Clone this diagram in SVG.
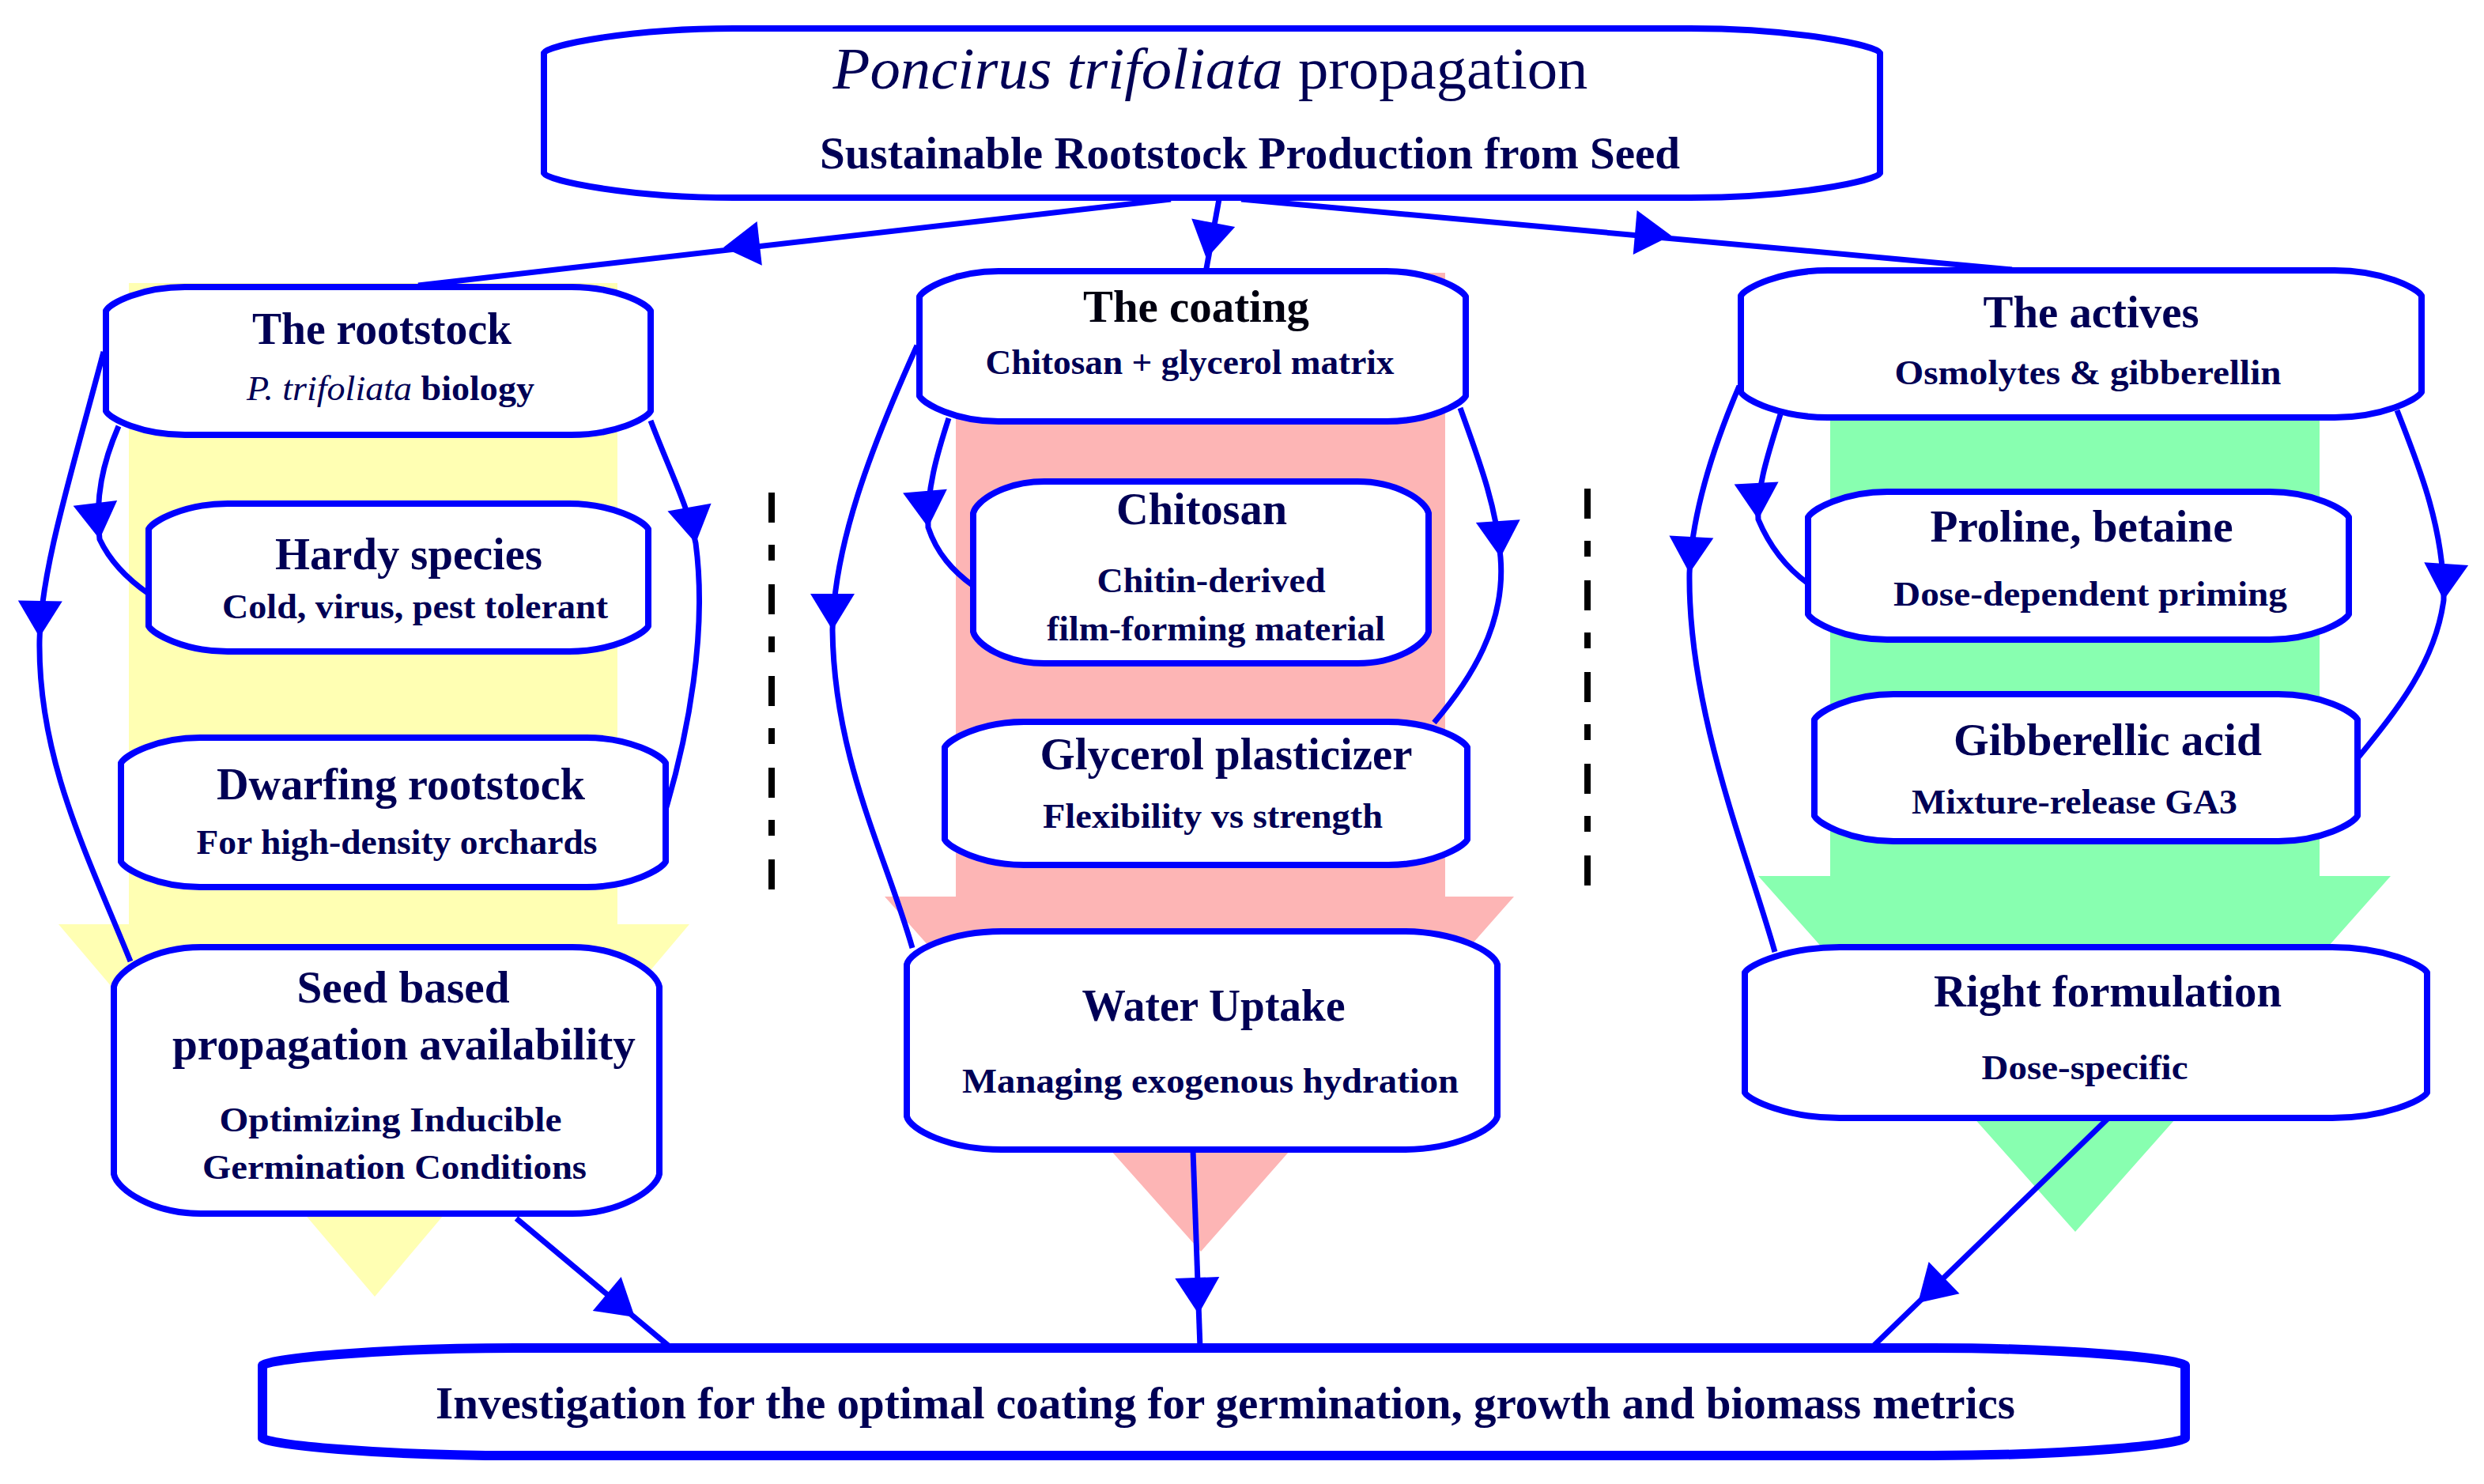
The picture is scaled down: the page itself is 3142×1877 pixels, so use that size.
<svg xmlns="http://www.w3.org/2000/svg" xmlns:xlink="http://www.w3.org/1999/xlink" width="3142" height="1877" viewBox="0 0 3142 1877">
<defs>
<style>
.box{fill:#fff;stroke:#0000ff;stroke-width:8;stroke-linejoin:round}
.t{font-family:"Liberation Serif","DejaVu Serif",serif;font-weight:bold;font-size:56px;fill:#000055;text-anchor:middle}
.s{font-family:"Liberation Serif","DejaVu Serif",serif;font-weight:bold;font-size:45px;fill:#000055;text-anchor:middle}
.it{font-style:italic;font-weight:normal}
.con{fill:none;stroke:#0000ff;stroke-width:7}
.dash{fill:none;stroke:#000;stroke-width:8;stroke-dasharray:38 28 20 30}
</style>
<path id="ah" d="M0,0 L-46,-28 L-46,28 Z" fill="#0000ff"/>
</defs>
<rect width="3142" height="1877" fill="#fff"/>
<g id="bands">
<polygon fill="#ffffb3" points="163,358 781,358 781,1169 872,1169 474,1640 74,1169 163,1169"/>
<polygon fill="#fdb5b5" points="1209,345 1828,345 1828,1134 1915,1134 1519,1583 1119,1134 1209,1134"/>
<polygon fill="#88ffb0" points="2315,341 2934,341 2934,1108 3024,1108 2625,1558 2224,1108 2315,1108"/>
</g>
<g id="separators">
<line class="dash" x1="976" y1="623" x2="976" y2="1127"/>
<line class="dash" x1="2008" y1="618" x2="2008" y2="1122"/>
</g>
<g id="connectors">
<path class="con" d="M1481,252 L529,361"/>
<use xlink:href="#ah" transform="translate(915,313) rotate(173.6)"/>
<path class="con" d="M1542,252 L1525,345"/>
<use xlink:href="#ah" transform="translate(1526,327) rotate(100.9)"/>
<path class="con" d="M1570,252 L2545,341"/>
<use xlink:href="#ah" transform="translate(2114,298) rotate(5)"/>
<path class="con" d="M131,445 C90,600 52,720 50,810 C48,960 110,1080 165,1216"/>
<use xlink:href="#ah" transform="translate(50,806) rotate(91)"/>
<path class="con" d="M150,539 C130,585 120,630 126,682 C140,712 165,735 188,751"/>
<use xlink:href="#ah" transform="translate(126,682) rotate(83)"/>
<path class="con" d="M823,532 C845,590 870,640 880,687 C895,800 870,930 842,1024"/>
<use xlink:href="#ah" transform="translate(880,687) rotate(80)"/>
<path class="con" d="M1160,437 C1100,570 1055,690 1053,797 C1055,960 1120,1080 1154,1199"/>
<use xlink:href="#ah" transform="translate(1053,797) rotate(90)"/>
<path class="con" d="M1200,529 C1185,575 1172,620 1174,667 C1185,700 1205,722 1231,741"/>
<use xlink:href="#ah" transform="translate(1174,667) rotate(85)"/>
<path class="con" d="M1847,516 C1870,580 1893,640 1898,705 C1905,790 1860,860 1814,914"/>
<use xlink:href="#ah" transform="translate(1898,705) rotate(86)"/>
<path class="con" d="M2200,488 C2165,570 2140,650 2137,725 C2135,900 2210,1080 2245,1204"/>
<use xlink:href="#ah" transform="translate(2137,725) rotate(93)"/>
<path class="con" d="M2252,524 C2238,570 2222,615 2224,657 C2240,695 2262,720 2287,738"/>
<use xlink:href="#ah" transform="translate(2224,657) rotate(87)"/>
<path class="con" d="M3032,519 C3060,590 3092,670 3091,759 C3080,840 3030,900 2983,958"/>
<use xlink:href="#ah" transform="translate(3091,759) rotate(94)"/>
<path class="con" d="M653,1541 L849,1705"/>
<use xlink:href="#ah" transform="translate(803,1666) rotate(39.9)"/>
<path class="con" d="M1509,1455 L1518,1705"/>
<use xlink:href="#ah" transform="translate(1516,1662) rotate(87.9)"/>
<path class="con" d="M2666,1415 L2367,1705"/>
<use xlink:href="#ah" transform="translate(2426,1648) rotate(136)"/>
</g>
<g id="node-top">
<path class="box" d="M928,36 H2138 C2270,36 2372,57 2378,67 V219 C2372,229 2270,250 2138,250 H928 C796,250 694,229 688,219 V67 C694,57 796,36 928,36 Z"/>
<text x="1531" y="112" style="font-family:'Liberation Serif','DejaVu Serif',serif;font-size:74px;fill:#000055;text-anchor:middle" textLength="955" lengthAdjust="spacingAndGlyphs"><tspan font-style="italic">Poncirus trifoliata</tspan> propagation</text>
<text class="t" x="1581" y="213" textLength="1088" lengthAdjust="spacingAndGlyphs">Sustainable Rootstock Production from Seed</text>
</g>
<g id="node-rootstock">
<path class="box" d="M234,363 H723 C778,363 817,383 823,393 V520 C817,530 778,550 723,550 H234 C179,550 140,530 134,520 V393 C140,383 179,363 234,363 Z"/>
<text class="t" x="483" y="435" textLength="328" lengthAdjust="spacingAndGlyphs">The rootstock</text>
<text class="s" x="494" y="506" textLength="364" lengthAdjust="spacingAndGlyphs"><tspan class="it">P. trifoliata</tspan> biology</text>
</g>
<g id="node-hardy">
<path class="box" d="M288,637 H720 C775,637 814,659 820,669 V792 C814,802 775,824 720,824 H288 C233,824 194,802 188,792 V669 C194,659 233,637 288,637 Z"/>
<text class="t" x="517" y="720" textLength="338" lengthAdjust="spacingAndGlyphs">Hardy species</text>
<text class="s" x="525" y="782" textLength="488" lengthAdjust="spacingAndGlyphs">Cold, virus, pest tolerant</text>
</g>
<g id="node-dwarfing">
<path class="box" d="M253,933 H742 C797,933 836,955 842,965 V1090 C836,1100 797,1122 742,1122 H253 C198,1122 159,1100 153,1090 V965 C159,955 198,933 253,933 Z"/>
<text class="t" x="507" y="1011" textLength="466" lengthAdjust="spacingAndGlyphs">Dwarfing rootstock</text>
<text class="s" x="502" y="1080" textLength="507" lengthAdjust="spacingAndGlyphs">For high-density orchards</text>
</g>
<g id="node-seed">
<path class="box" d="M254,1198 H724 C784,1198 830,1228 834,1248 V1485 C830,1505 784,1535 724,1535 H254 C194,1535 148,1505 144,1485 V1248 C148,1228 194,1198 254,1198 Z"/>
<text class="t" x="510" y="1268" textLength="269" lengthAdjust="spacingAndGlyphs">Seed based</text>
<text class="t" x="511" y="1340" textLength="586" lengthAdjust="spacingAndGlyphs">propagation availability</text>
<text class="s" x="494" y="1431" textLength="433" lengthAdjust="spacingAndGlyphs">Optimizing Inducible</text>
<text class="s" x="499" y="1491" textLength="486" lengthAdjust="spacingAndGlyphs">Germination Conditions</text>
</g>
<g id="node-coating">
<path class="box" d="M1263,343 H1754 C1809,343 1848,365 1854,375 V501 C1848,511 1809,533 1754,533 H1263 C1208,533 1169,511 1163,501 V375 C1169,365 1208,343 1263,343 Z"/>
<text class="t" x="1513" y="407" style="fill:#000010" textLength="286" lengthAdjust="spacingAndGlyphs">The coating</text>
<text class="s" x="1505" y="473" textLength="517" lengthAdjust="spacingAndGlyphs">Chitosan + glycerol matrix</text>
</g>
<g id="node-chitosan">
<path class="box" d="M1321,609 H1717 C1767,609 1803,633 1807,649 V799 C1803,815 1767,839 1717,839 H1321 C1271,839 1235,815 1231,799 V649 C1235,633 1271,609 1321,609 Z"/>
<text class="t" x="1520" y="663" textLength="216" lengthAdjust="spacingAndGlyphs">Chitosan</text>
<text class="s" x="1532" y="749" textLength="289" lengthAdjust="spacingAndGlyphs">Chitin-derived</text>
<text class="s" x="1538" y="810" textLength="428" lengthAdjust="spacingAndGlyphs">film-forming material</text>
</g>
<g id="node-glycerol">
<path class="box" d="M1295,913 H1756 C1811,913 1850,935 1856,945 V1062 C1850,1072 1811,1094 1756,1094 H1295 C1240,1094 1201,1072 1195,1062 V945 C1201,935 1240,913 1295,913 Z"/>
<text class="t" x="1551" y="973" textLength="471" lengthAdjust="spacingAndGlyphs">Glycerol plasticizer</text>
<text class="s" x="1534" y="1047" textLength="430" lengthAdjust="spacingAndGlyphs">Flexibility vs strength</text>
</g>
<g id="node-water">
<path class="box" d="M1267,1178 H1774 C1840,1178 1890,1203 1894,1220 V1412 C1890,1429 1840,1454 1774,1454 H1267 C1201,1454 1151,1429 1147,1412 V1220 C1151,1203 1201,1178 1267,1178 Z"/>
<text class="t" x="1535" y="1291" textLength="333" lengthAdjust="spacingAndGlyphs">Water Uptake</text>
<text class="s" x="1531" y="1382" textLength="628" lengthAdjust="spacingAndGlyphs">Managing exogenous hydration</text>
</g>
<g id="node-actives">
<path class="box" d="M2312,342 H2953 C3013,342 3057,364 3063,374 V496 C3057,506 3013,528 2953,528 H2312 C2252,528 2208,506 2202,496 V374 C2208,364 2252,342 2312,342 Z"/>
<text class="t" x="2645" y="414" textLength="273" lengthAdjust="spacingAndGlyphs">The actives</text>
<text class="s" x="2641" y="486" textLength="489" lengthAdjust="spacingAndGlyphs">Osmolytes &amp; gibberellin</text>
</g>
<g id="node-proline">
<path class="box" d="M2387,622 H2871 C2926,622 2965,644 2971,654 V777 C2965,787 2926,809 2871,809 H2387 C2332,809 2293,787 2287,777 V654 C2293,644 2332,622 2387,622 Z"/>
<text class="t" x="2633" y="685" textLength="383" lengthAdjust="spacingAndGlyphs">Proline, betaine</text>
<text class="s" x="2644" y="766" textLength="498" lengthAdjust="spacingAndGlyphs">Dose-dependent priming</text>
</g>
<g id="node-gibberellic">
<path class="box" d="M2395,878 H2882 C2937,878 2976,900 2982,910 V1032 C2976,1042 2937,1064 2882,1064 H2395 C2340,1064 2301,1042 2295,1032 V910 C2301,900 2340,878 2395,878 Z"/>
<text class="t" x="2666" y="955" textLength="390" lengthAdjust="spacingAndGlyphs">Gibberellic acid</text>
<text class="s" x="2624" y="1029" textLength="412" lengthAdjust="spacingAndGlyphs">Mixture-release GA3</text>
</g>
<g id="node-rightform">
<path class="box" d="M2327,1198 H2950 C3016,1198 3064,1220 3070,1230 V1382 C3064,1392 3016,1414 2950,1414 H2327 C2261,1414 2213,1392 2207,1382 V1230 C2213,1220 2261,1198 2327,1198 Z"/>
<text class="t" x="2666" y="1273" textLength="440" lengthAdjust="spacingAndGlyphs">Right formulation</text>
<text class="s" x="2637" y="1365" textLength="261" lengthAdjust="spacingAndGlyphs">Dose-specific</text>
</g>
<g id="node-bottom">
<path d="M652,1705 H2444 C2620,1705 2758,1719 2764,1727 V1819 C2758,1827 2620,1841 2444,1841 H652 C476,1841 338,1827 332,1819 V1727 C338,1719 476,1705 652,1705 Z" style="fill:#fff;stroke:#0000ff;stroke-width:12;stroke-linejoin:round"/>
<text class="t" x="1550" y="1794" textLength="1998" lengthAdjust="spacingAndGlyphs">Investigation for the optimal coating for germination, growth and biomass metrics</text>
</g>
</svg>
